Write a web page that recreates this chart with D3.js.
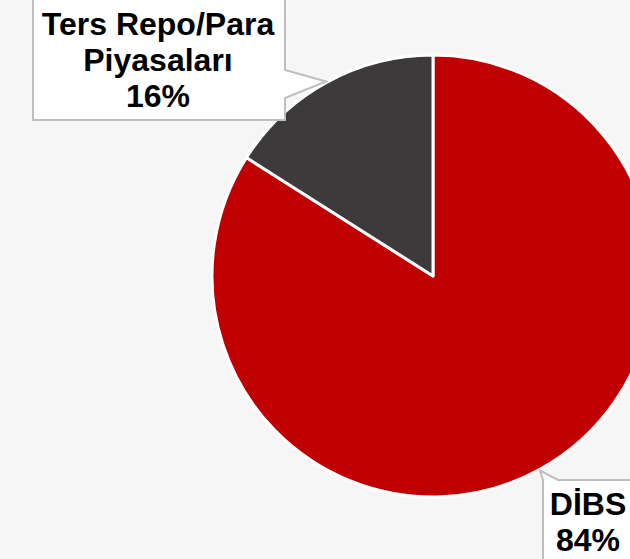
<!DOCTYPE html>
<html>
<head>
<meta charset="utf-8">
<script src="https://cdn.jsdelivr.net/npm/d3@7"></script>
<style>
  body { margin: 0; background: #f6f6f6; }
  svg { display: block; }
  .lbl { font-family: "Liberation Sans", Arial, sans-serif; font-weight: bold; font-size: 32px; fill: #000; }
</style>
</head>
<body>
<svg width="630" height="559"></svg>
<script>
// dati
var categorie = ["DİBS", "Ters Repo/Para Piyasaları"];
var valori = [84, 16];
var etichette = [["DİBS", "84%"], ["Ters Repo/Para", "Piyasaları", "16%"]];
var colori = ["#c00000", "#3c3a3b"];

var svg = d3.select("svg");
var cx = 433, cy = 276, raggio = 221;

var pie = d3.pie().sort(null).value(function(d){ return d; });
var arco = d3.arc().innerRadius(0).outerRadius(raggio);
var archi = pie(valori);

var g = svg.append("g").attr("transform", "translate(" + cx + "," + cy + ")");
g.selectAll("path")
  .data(archi)
  .enter().append("path")
  .attr("d", arco)
  .attr("fill", function(d,i){ return colori[i]; })
  .attr("stroke", "#fff")
  .attr("stroke-width", 3)
  .attr("stroke-linejoin", "round");

// punta del richiamo sul bordo della fetta, all'angolo medio
function punta(d){
  var a = (d.startAngle + d.endAngle) / 2;
  return [cx + Math.sin(a) * (raggio + 1), cy - Math.cos(a) * (raggio + 1)];
}

// riquadri con richiamo
var boxes = [
  // DİBS: in basso a destra, richiamo dal lato superiore
  { x: 543, y: 480, w: 120, h: 110, testoX: 588, baseY: 515, side: "top", a: 0, b: 15 },
  // Ters Repo: in alto a sinistra, richiamo dal lato destro
  { x: 33, y: -10, w: 252, h: 130, testoX: 158, baseY: 35, side: "right", a: 80, b: 108 }
];

boxes.forEach(function(b, i){
  var t = punta(archi[i]);
  var p;
  if (b.side == "right"){
    p = [[b.x, b.y], [b.x + b.w, b.y], [b.x + b.w, b.y + b.a], t, [b.x + b.w, b.y + b.b],
         [b.x + b.w, b.y + b.h], [b.x, b.y + b.h]];
  } else {
    p = [[b.x, b.y], t, [b.x + b.b, b.y], [b.x + b.w, b.y], [b.x + b.w, b.y + b.h], [b.x, b.y + b.h]];
  }
  svg.append("path")
    .attr("d", d3.line()(p) + "Z")
    .attr("fill", "#fff")
    .attr("stroke", "#bfbfbf")
    .attr("stroke-width", 2)
    .attr("stroke-linejoin", "miter");

  var txt = svg.append("text")
    .attr("class", "lbl")
    .attr("text-anchor", "middle");
  etichette[i].forEach(function(riga, k){
    txt.append("tspan")
      .attr("x", b.testoX)
      .attr("y", b.baseY + k * 36)
      .text(riga);
  });
});
</script>
</body>
</html>
